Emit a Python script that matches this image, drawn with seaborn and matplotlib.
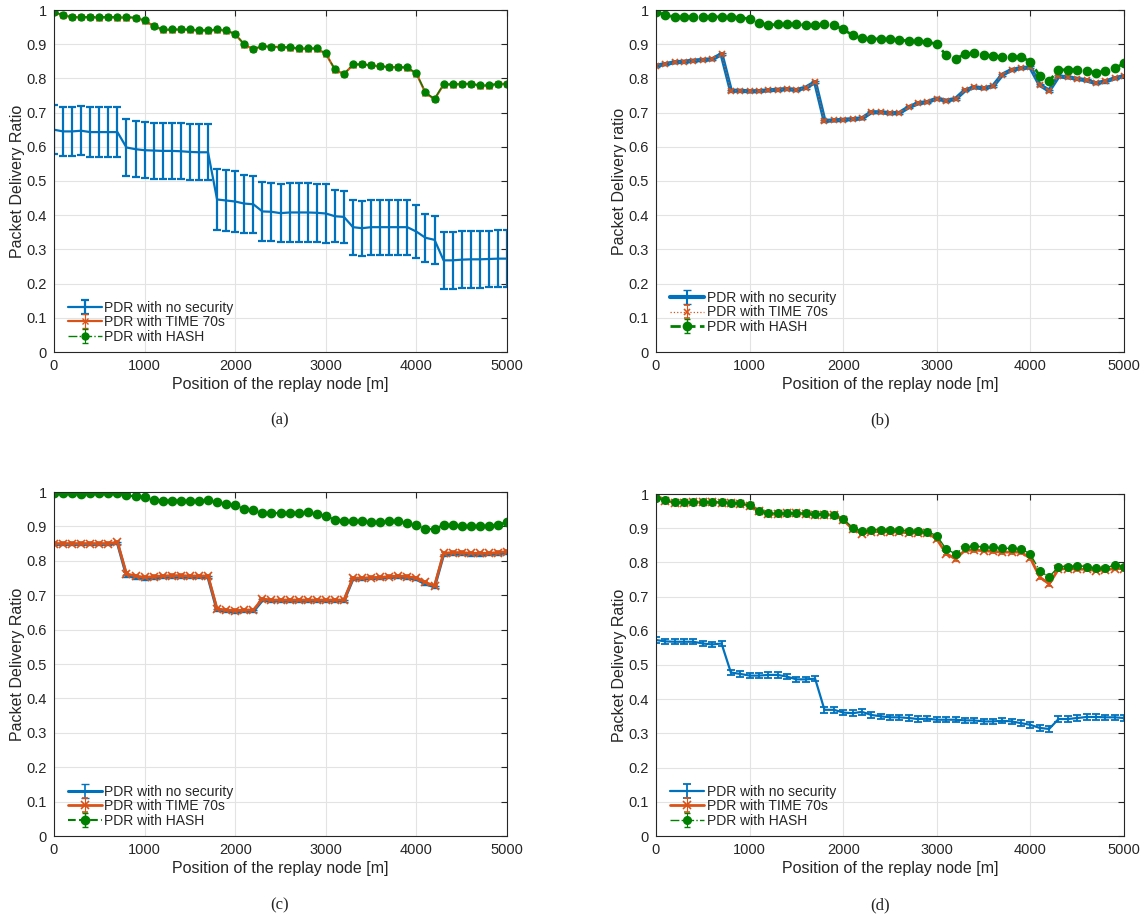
import numpy as np
import matplotlib
matplotlib.use('Agg')
import matplotlib.pyplot as plt
import seaborn as sns
from matplotlib.ticker import FuncFormatter

# replay node position, every 100 m
pos = np.arange(0, 5001, 100)

# ---- panel (a)
nosec_a = [0.65, 0.645, 0.645, 0.647, 0.643, 0.643, 0.643, 0.643, 0.598, 0.593,
           0.59, 0.589, 0.588, 0.588, 0.587, 0.585, 0.584, 0.584, 0.446, 0.443,
           0.44, 0.434, 0.432, 0.411, 0.41, 0.406, 0.408, 0.408, 0.408, 0.407,
           0.405, 0.397, 0.395, 0.365, 0.362, 0.365, 0.365, 0.365, 0.365, 0.365,
           0.352, 0.334, 0.328, 0.268, 0.268, 0.27, 0.271, 0.271, 0.272, 0.273,
           0.273]
nosec_a_err = ([0.072] * 8 + [0.082] * 10 + [0.09, 0.09, 0.088, 0.085, 0.083] +
               [0.085] * 8 + [0.076] * 2 + [0.08] * 7 + [0.077] + [0.07] * 2 +
               [0.083] * 8)
time_a = [0.993, 0.984, 0.979, 0.979, 0.979, 0.978, 0.979, 0.978, 0.978, 0.977,
          0.969, 0.953, 0.942, 0.942, 0.943, 0.942, 0.94, 0.94, 0.942, 0.94,
          0.929, 0.899, 0.885, 0.894, 0.892, 0.892, 0.89, 0.887, 0.887, 0.887,
          0.872, 0.826, 0.812, 0.84, 0.841, 0.838, 0.835, 0.833, 0.833, 0.831,
          0.814, 0.758, 0.739, 0.782, 0.782, 0.784, 0.784, 0.779, 0.779, 0.784,
          0.784]
hash_a = [0.995, 0.985, 0.98, 0.98, 0.98, 0.98, 0.98, 0.98, 0.98, 0.978,
          0.97, 0.954, 0.943, 0.943, 0.944, 0.943, 0.941, 0.941, 0.943, 0.941,
          0.93, 0.9, 0.886, 0.895, 0.893, 0.893, 0.891, 0.888, 0.888, 0.888,
          0.873, 0.827, 0.813, 0.841, 0.842, 0.839, 0.836, 0.834, 0.834, 0.832,
          0.815, 0.759, 0.74, 0.783, 0.783, 0.785, 0.785, 0.78, 0.78, 0.785,
          0.785]

# ---- panel (b)
nosec_b = [0.837, 0.842, 0.847, 0.849, 0.852, 0.854, 0.856, 0.871, 0.764, 0.764,
           0.762, 0.763, 0.765, 0.767, 0.769, 0.766, 0.773, 0.789, 0.676, 0.677,
           0.679, 0.681, 0.683, 0.701, 0.701, 0.698, 0.699, 0.716, 0.727, 0.731,
           0.741, 0.735, 0.74, 0.765, 0.774, 0.771, 0.777, 0.811, 0.825, 0.83,
           0.832, 0.781, 0.764, 0.806, 0.803, 0.799, 0.794, 0.786, 0.791, 0.8,
           0.807]
time_b = [0.837, 0.842, 0.847, 0.849, 0.852, 0.854, 0.856, 0.871, 0.764, 0.764,
          0.762, 0.763, 0.765, 0.767, 0.769, 0.766, 0.773, 0.789, 0.676, 0.677,
          0.679, 0.681, 0.683, 0.701, 0.701, 0.698, 0.699, 0.716, 0.727, 0.731,
          0.741, 0.735, 0.74, 0.765, 0.774, 0.771, 0.777, 0.811, 0.825, 0.83,
          0.832, 0.781, 0.764, 0.806, 0.803, 0.799, 0.794, 0.786, 0.791, 0.8,
          0.807]
hash_b = [0.995, 0.985, 0.98, 0.98, 0.98, 0.98, 0.98, 0.98, 0.98, 0.978,
          0.974, 0.963, 0.956, 0.958, 0.959, 0.958, 0.956, 0.956, 0.958, 0.955,
          0.944, 0.926, 0.917, 0.915, 0.916, 0.914, 0.912, 0.91, 0.91, 0.907,
          0.9, 0.868, 0.857, 0.871, 0.873, 0.868, 0.866, 0.863, 0.863, 0.863,
          0.849, 0.807, 0.793, 0.824, 0.826, 0.824, 0.822, 0.817, 0.821, 0.829,
          0.844]

# ---- panel (c)
nosec_c = [0.848, 0.848, 0.848, 0.848, 0.848, 0.848, 0.848, 0.852, 0.757, 0.751,
           0.748, 0.749, 0.752, 0.753, 0.753, 0.752, 0.752, 0.752, 0.656, 0.653,
           0.651, 0.653, 0.653, 0.685, 0.683, 0.683, 0.683, 0.683, 0.683, 0.684,
           0.684, 0.684, 0.684, 0.747, 0.748, 0.749, 0.75, 0.752, 0.753, 0.751,
           0.746, 0.733, 0.724, 0.818, 0.819, 0.82, 0.818, 0.818, 0.819, 0.82,
           0.824]
time_c = [0.85, 0.85, 0.85, 0.85, 0.85, 0.85, 0.85, 0.854, 0.762, 0.756,
          0.752, 0.754, 0.756, 0.757, 0.757, 0.756, 0.756, 0.756, 0.66, 0.657,
          0.655, 0.657, 0.657, 0.689, 0.686, 0.686, 0.686, 0.686, 0.686, 0.686,
          0.686, 0.686, 0.686, 0.75, 0.75, 0.751, 0.752, 0.754, 0.756, 0.754,
          0.75, 0.737, 0.727, 0.822, 0.824, 0.824, 0.822, 0.822, 0.822, 0.824,
          0.827]
hash_c = [0.998, 0.997, 0.996, 0.995, 0.996, 0.997, 0.997, 0.997, 0.99, 0.987,
          0.985, 0.978, 0.975, 0.975, 0.975, 0.975, 0.975, 0.976, 0.97, 0.965,
          0.962, 0.951, 0.947, 0.939, 0.939, 0.939, 0.94, 0.94, 0.941, 0.936,
          0.931, 0.919, 0.917, 0.915, 0.915, 0.913, 0.913, 0.915, 0.916, 0.91,
          0.905, 0.893, 0.892, 0.905, 0.903, 0.902, 0.901, 0.901, 0.902, 0.905,
          0.913]

# ---- panel (d)
nosec_d = [0.573, 0.569, 0.568, 0.568, 0.568, 0.563, 0.56, 0.563, 0.478, 0.474,
           0.469, 0.469, 0.471, 0.471, 0.466, 0.458, 0.458, 0.46, 0.369, 0.369,
           0.361, 0.359, 0.363, 0.354, 0.35, 0.347, 0.347, 0.345, 0.342, 0.343,
           0.34, 0.34, 0.34, 0.338, 0.338, 0.335, 0.335, 0.337, 0.335, 0.33,
           0.325, 0.316, 0.313, 0.342, 0.342, 0.345, 0.348, 0.348, 0.347, 0.347,
           0.345]
time_d = [0.995, 0.98, 0.975, 0.975, 0.976, 0.976, 0.976, 0.975, 0.974, 0.972,
          0.965, 0.949, 0.941, 0.941, 0.943, 0.943, 0.941, 0.94, 0.94, 0.938,
          0.925, 0.897, 0.884, 0.89, 0.89, 0.889, 0.889, 0.886, 0.886, 0.886,
          0.868, 0.826, 0.81, 0.835, 0.836, 0.834, 0.832, 0.83, 0.83, 0.83,
          0.812, 0.757, 0.737, 0.78, 0.782, 0.78, 0.78, 0.776, 0.778, 0.782,
          0.782]
hash_d = [0.989, 0.981, 0.976, 0.976, 0.977, 0.977, 0.977, 0.976, 0.975, 0.973,
          0.967, 0.951, 0.944, 0.944, 0.945, 0.945, 0.944, 0.942, 0.942, 0.939,
          0.927, 0.902, 0.892, 0.896, 0.895, 0.895, 0.895, 0.892, 0.892, 0.89,
          0.878, 0.839, 0.825, 0.846, 0.847, 0.846, 0.844, 0.841, 0.841, 0.84,
          0.824, 0.775, 0.757, 0.788, 0.788, 0.79, 0.788, 0.783, 0.785, 0.791,
          0.788]

labels = ['PDR with no security', 'PDR with TIME 70s', 'PDR with HASH']
BLUE, ORANGE, GREEN = '#0072BD', '#D95319', '#008000'

sns.set_style('whitegrid')
plt.rcParams['font.family'] = ['Liberation Sans', 'DejaVu Sans']

fig = plt.figure(figsize=(11.4, 9.18), dpi=100)
W, H = 1140.0, 918.0

def make_axes(left, right, top, bottom):
    return fig.add_axes([left / W, 1 - bottom / H, (right - left) / W, (bottom - top) / H])

def style(ax, ylabel, legend_y=-0.005):
    ax.set_xlim(0, 5000)
    ax.set_ylim(0, 1)
    ax.set_xticks(range(0, 5001, 1000))
    ax.set_yticks(np.arange(0, 1.01, 0.1))
    ax.yaxis.set_major_formatter(FuncFormatter(lambda v, p: '%g' % round(v, 1)))
    ax.grid(True, color='#e3e3e3', lw=0.8)
    ax.set_axisbelow(True)
    for s in ax.spines.values():
        s.set_color('#262626')
        s.set_linewidth(0.8)
    ax.tick_params(direction='in', top=True, right=True, length=4, width=0.8,
                   colors='#262626', labelsize=10.5, pad=5)
    ax.set_xlabel('Position of the replay node [m]', fontsize=11.5, color='#262626', labelpad=3)
    ax.set_ylabel(ylabel, fontsize=11.5, color='#262626', labelpad=1)
    ax.legend(loc='lower left', frameon=False, fontsize=10, handlelength=2.4,
              borderaxespad=0.3, labelspacing=0.05, handletextpad=0.2,
              bbox_to_anchor=(0.01, legend_y))

# (a)
ax = make_axes(54, 507, 10, 352)
ax.errorbar(pos, nosec_a, yerr=nosec_a_err, color=BLUE, lw=1.6, capsize=3, elinewidth=1.6,
            capthick=1.6, label=labels[0])
ax.errorbar(pos, time_a, yerr=0.006, color=ORANGE, lw=1.6, marker='x', ms=4.5, mew=1,
            capsize=2, elinewidth=0.8, label=labels[1])
ax.errorbar(pos, hash_a, yerr=0.004, color=GREEN, lw=1, ls='-.', marker='o', ms=5,
            capsize=2, elinewidth=0.8, label=labels[2])
style(ax, 'Packet Delivery Ratio')

# (b)
ax = make_axes(656, 1124, 10, 352)
ax.errorbar(pos, nosec_b, yerr=0.003, color=BLUE, lw=3, capsize=3, elinewidth=1.5,
            label=labels[0])
ax.errorbar(pos, time_b, yerr=0.003, color=ORANGE, lw=0.9, ls=':', marker='x', ms=5, mew=1.2,
            capsize=2, elinewidth=0.8, label=labels[1])
ax.errorbar(pos, hash_b, yerr=0.003, color=GREEN, lw=2, ls='--', marker='o', ms=6,
            capsize=2, elinewidth=1, label=labels[2])
style(ax, 'Packet Delivery ratio', legend_y=0.024)

# (c)
ax = make_axes(54, 507, 492, 836)
ax.errorbar(pos, nosec_c, yerr=0.003, color=BLUE, lw=2.2, capsize=3, elinewidth=1.2,
            label=labels[0])
ax.errorbar(pos, time_c, yerr=0.004, color=ORANGE, lw=2, marker='x', ms=6, mew=1.2,
            capsize=2, elinewidth=0.8, label=labels[1])
ax.errorbar(pos, hash_c, yerr=0.003, color=GREEN, lw=1.5, ls='--', marker='o', ms=6,
            capsize=2, elinewidth=1, label=labels[2])
style(ax, 'Packet Delivery Ratio')

# (d)
ax = make_axes(656, 1124, 494, 836)
ax.errorbar(pos, nosec_d, yerr=0.008, color=BLUE, lw=1.6, capsize=3, elinewidth=1.3,
            capthick=1.3, label=labels[0])
ax.errorbar(pos, time_d, yerr=0.005, color=ORANGE, lw=2, marker='x', ms=6, mew=1.2,
            capsize=2, elinewidth=0.8, label=labels[1])
ax.errorbar(pos, hash_d, yerr=0.004, color=GREEN, lw=1, ls='-.', marker='o', ms=5.5,
            capsize=2, elinewidth=0.8, label=labels[2])
style(ax, 'Packet Delivery Ratio')

for x, y, t in [(280, 420, '(a)'), (880, 420, '(b)'), (280, 905, '(c)'), (880, 905, '(d)')]:
    fig.text(x / W, 1 - y / H, t, ha='center', va='center', fontsize=12,
             family=['Liberation Serif', 'DejaVu Serif'])

fig.savefig('out.png', dpi=100)
